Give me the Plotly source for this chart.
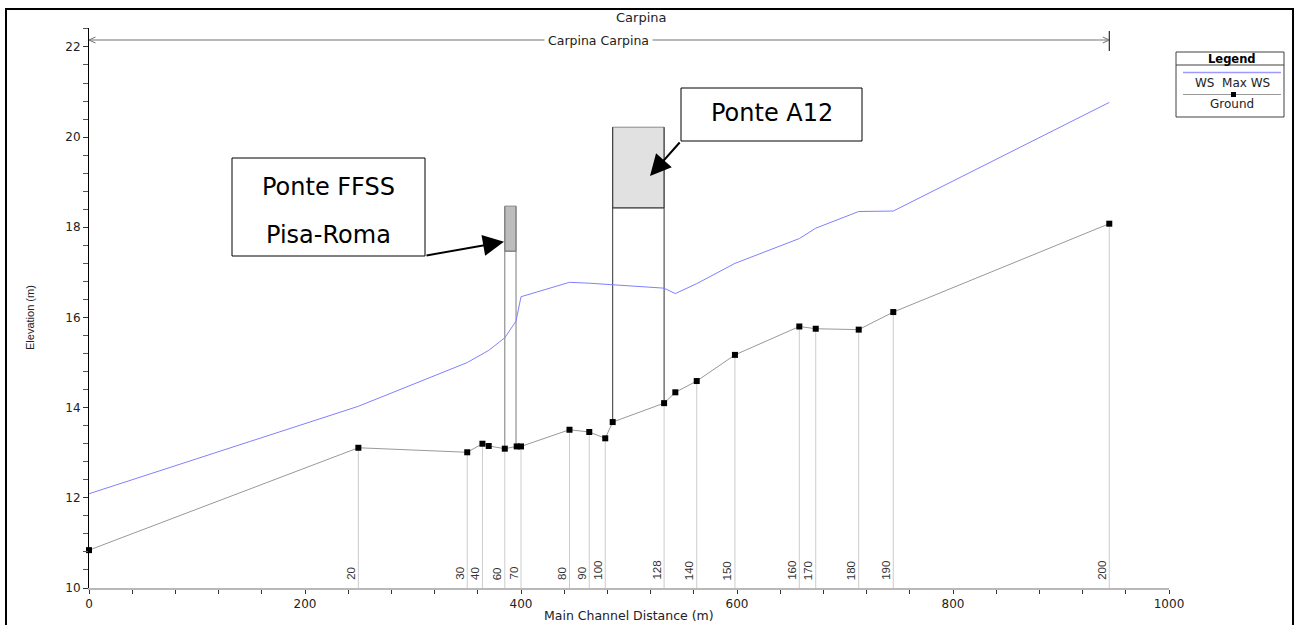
import plotly.graph_objects as go

# ---- profile data -------------------------------------------------------
# Ground profile (main channel distance in m, bed elevation in m); stations
# that carry a cross-section label have a name, bridge faces do not.
ground_dist = [0.0, 249.4, 350.2, 364.3, 370.1, 385.0, 396.0, 400.0, 444.9,
               463.2, 478.0, 484.9, 532.5, 542.9, 562.7, 598.1, 657.7, 672.9,
               712.7, 744.7, 944.7]
ground_elev = [10.84, 13.11, 13.01, 13.20, 13.15, 13.09, 13.14, 13.14, 13.51,
               13.46, 13.32, 13.68, 14.10, 14.34, 14.59, 15.17, 15.80, 15.75,
               15.73, 16.12, 18.08]
ground_label = ["", "20", "30", "40", "", "60", "", "70", "80",
                "90", "100", "", "128", "", "140", "150", "160", "170",
                "180", "190", "200"]

# Maximum water surface profile
ws_dist = [0.0, 249.4, 350.2, 364.3, 370.1, 385.0, 395.4, 400.0, 444.9, 463.2,
           478.0, 484.9, 532.5, 542.9, 562.7, 598.1, 657.7, 672.9, 712.7,
           744.7, 944.7]
ws_elev = [12.09, 14.03, 15.00, 15.18, 15.27, 15.55, 15.92, 16.46, 16.78, 16.76,
           16.74, 16.72, 16.65, 16.53, 16.75, 17.20, 17.75, 17.98, 18.35,
           18.36, 20.77]

# Bridges: upstream / downstream face, low chord, high chord, ground at faces
bridge_name = ["Ponte FFSS", "Ponte A12"]
bridge_left = [385.0, 484.9]
bridge_right = [395.4, 532.5]
bridge_low = [17.47, 18.43]
bridge_high = [18.47, 20.22]
bridge_ground_left = [13.09, 13.68]
bridge_ground_right = [13.14, 14.10]
bridge_fill = ["#bdbdbd", "#e1e1e1"]
bridge_edge = ["#7a7a7a", "#303030"]

reach_start, reach_end = 0.0, 944.7

# ---- page geometry ---------------------------------------------------------
W, H = 1295, 625
ML, MR, MT, MB = 89, 126, 28, 37
PW, PH = W - ML - MR, H - MT - MB
X_RANGE = [0, 1000]
Y_RANGE = [10, 22.42]
FONT = "DejaVu Sans, Arial, sans-serif"
NARROW = "Liberation Sans, Arial, sans-serif"


def px(x):
    return (x - ML) / PW


def py(y):
    return (H - MB - y) / PH


def label(x, y, text, size, family=FONT, color="#222", **kw):
    d = dict(x=px(x), y=py(y), xref="paper", yref="paper", text=text,
             showarrow=False, xanchor="center", yanchor="middle",
             font=dict(family=family, size=size, color=color))
    d.update(kw)
    return d


fig = go.Figure()

# station guide lines from the bed down to the axis
vx, vy = [], []
for d, e, lab in zip(ground_dist, ground_elev, ground_label):
    if lab:
        vx += [d, d, None]
        vy += [e, Y_RANGE[0], None]
fig.add_trace(go.Scatter(x=vx, y=vy, mode="lines",
                         line=dict(color="#cccccc", width=1),
                         hoverinfo="skip", showlegend=False))

# bridge decks and abutment lines
shapes = []
for i in range(len(bridge_name)):
    l, r = bridge_left[i], bridge_right[i]
    shapes.append(dict(type="rect", xref="x", yref="y", x0=l, x1=r,
                       y0=bridge_low[i], y1=bridge_high[i],
                       fillcolor=bridge_fill[i],
                       line=dict(color="#8a8a8a", width=1), layer="below"))
    fig.add_trace(go.Scatter(
        x=[l, l, None, r, r, None, l, r],
        y=[bridge_ground_left[i], bridge_high[i], None,
           bridge_ground_right[i], bridge_high[i], None,
           bridge_low[i], bridge_low[i]],
        mode="lines", line=dict(color=bridge_edge[i], width=1),
        hoverinfo="skip", showlegend=False))

# water surface
fig.add_trace(go.Scatter(x=ws_dist, y=ws_elev, mode="lines",
                         line=dict(color="#8080ff", width=1),
                         name="WS Max WS", showlegend=False))

# ground
fig.add_trace(go.Scatter(x=ground_dist, y=ground_elev, mode="lines+markers",
                         line=dict(color="#999999", width=1),
                         marker=dict(symbol="square", size=6, color="black"),
                         cliponaxis=False,
                         name="Ground", showlegend=False))

annotations = []

# station names, rotated, at the foot of each guide line
for d, lab in zip(ground_dist, ground_label):
    if lab:
        annotations.append(dict(x=d, y=Y_RANGE[0], xref="x", yref="y",
                                text=lab, textangle=-90, showarrow=False,
                                xanchor="right", yanchor="bottom",
                                xshift=0, yshift=6,
                                font=dict(family=NARROW, size=11.5,
                                          color="#333")))

# reach banner
ybanner = py(40)
shapes.append(dict(type="line", xref="x", yref="paper", x0=reach_start,
                   x1=reach_end, y0=ybanner, y1=ybanner,
                   line=dict(color="#a0a0a0", width=1.5)))
shapes.append(dict(type="line", xref="x", yref="paper", x0=reach_end,
                   x1=reach_end, y0=py(31), y1=py(51),
                   line=dict(color="black", width=1)))
for tip, back in ((reach_start, reach_start + 6), (reach_end, reach_end - 6)):
    shapes.append(dict(type="path", xref="x", yref="paper",
                       path=f"M {back} {py(37)} L {tip} {ybanner} L {back} {py(43)}",
                       line=dict(color="#707070", width=1)))
annotations.append(label(598, 40, "Carpina Carpina", 12.5,
                         bgcolor="white", borderpad=3))
annotations.append(label(641, 17, "Carpina", 13))

# axis titles
annotations.append(label(30, 318, "Elevation (m)", 11, family=NARROW,
                         textangle=-90))
annotations.append(label(629, 615.5, "Main Channel Distance (m)", 12.5))

# bridge call-out boxes
shapes.append(dict(type="rect", xref="paper", yref="paper",
                   x0=px(232), x1=px(425), y0=py(256), y1=py(158),
                   fillcolor="white", line=dict(color="black", width=1)))
annotations.append(label(328.5, 187, "Ponte FFSS", 24, color="black"))
annotations.append(label(328.5, 235, "Pisa-Roma", 24, color="black"))
annotations.append(dict(x=px(504), y=py(241.7), xref="paper", yref="paper",
                        ax=425 - 504, ay=255.7 - 241.7, text="", showarrow=True,
                        arrowhead=2, arrowsize=2.1, arrowwidth=2,
                        arrowcolor="black"))

shapes.append(dict(type="rect", xref="paper", yref="paper",
                   x0=px(681), x1=px(862), y0=py(141), y1=py(88),
                   fillcolor="white", line=dict(color="black", width=1)))
annotations.append(label(771.5, 113, "Ponte A12", 24, color="black"))
annotations.append(dict(x=px(650), y=py(176), xref="paper", yref="paper",
                        ax=681 - 650, ay=141 - 176, text="", showarrow=True,
                        arrowhead=2, arrowsize=2.1, arrowwidth=2,
                        arrowcolor="black"))

# legend panel
LX0, LX1, LY0, LY1 = 1176, 1284, 52, 117
shapes.append(dict(type="rect", xref="paper", yref="paper",
                   x0=px(LX0), x1=px(LX1), y0=py(LY1), y1=py(LY0),
                   line=dict(color="#404040", width=1)))
shapes.append(dict(type="line", xref="paper", yref="paper",
                   x0=px(LX0), x1=px(LX1), y0=py(65), y1=py(65),
                   line=dict(color="#404040", width=1)))
shapes.append(dict(type="line", xref="paper", yref="paper",
                   x0=px(1183), x1=px(1281), y0=py(72.5), y1=py(72.5),
                   line=dict(color="#9a9aff", width=1.5)))
shapes.append(dict(type="line", xref="paper", yref="paper",
                   x0=px(1183), x1=px(1281), y0=py(94.5), y1=py(94.5),
                   line=dict(color="#999999", width=1)))
shapes.append(dict(type="rect", xref="paper", yref="paper",
                   x0=px(1231), x1=px(1236), y0=py(97), y1=py(92),
                   fillcolor="black", line=dict(width=0)))
annotations.append(label(1232, 58.5, "<b>Legend</b>", 11.5, color="black"))
annotations.append(label(1232, 83, "WS&nbsp;&nbsp;Max WS", 12))
annotations.append(label(1232, 104, "Ground", 12))

# outer frame
shapes.append(dict(type="rect", xref="paper", yref="paper",
                   x0=px(6), x1=px(1293), y0=py(660), y1=py(9),
                   line=dict(color="black", width=2)))

fig.update_layout(
    width=W, height=H,
    margin=dict(l=ML, r=MR, t=MT, b=MB),
    paper_bgcolor="white", plot_bgcolor="white",
    font=dict(family=FONT, size=12, color="#222"),
    shapes=shapes, annotations=annotations,
    showlegend=False,
    xaxis=dict(range=X_RANGE, dtick=200, showgrid=False, zeroline=False,
               showline=True, linecolor="#b8b8b8", linewidth=2,
               ticks="outside", ticklen=4, tickcolor="#333",
               minor=dict(dtick=40, ticks="outside", ticklen=4,
                          tickcolor="#333"),
               tickfont=dict(family=FONT, size=12, color="#222")),
    yaxis=dict(range=Y_RANGE, dtick=2, showgrid=False, zeroline=False,
               showline=True, linecolor="black", linewidth=1,
               ticks="outside", ticklen=5, tickcolor="#333",
               minor=dict(dtick=0.4, ticks="outside", ticklen=5,
                          tickcolor="#555"),
               tickfont=dict(family=FONT, size=12, color="#222")),
)

fig.write_html("out.html")
